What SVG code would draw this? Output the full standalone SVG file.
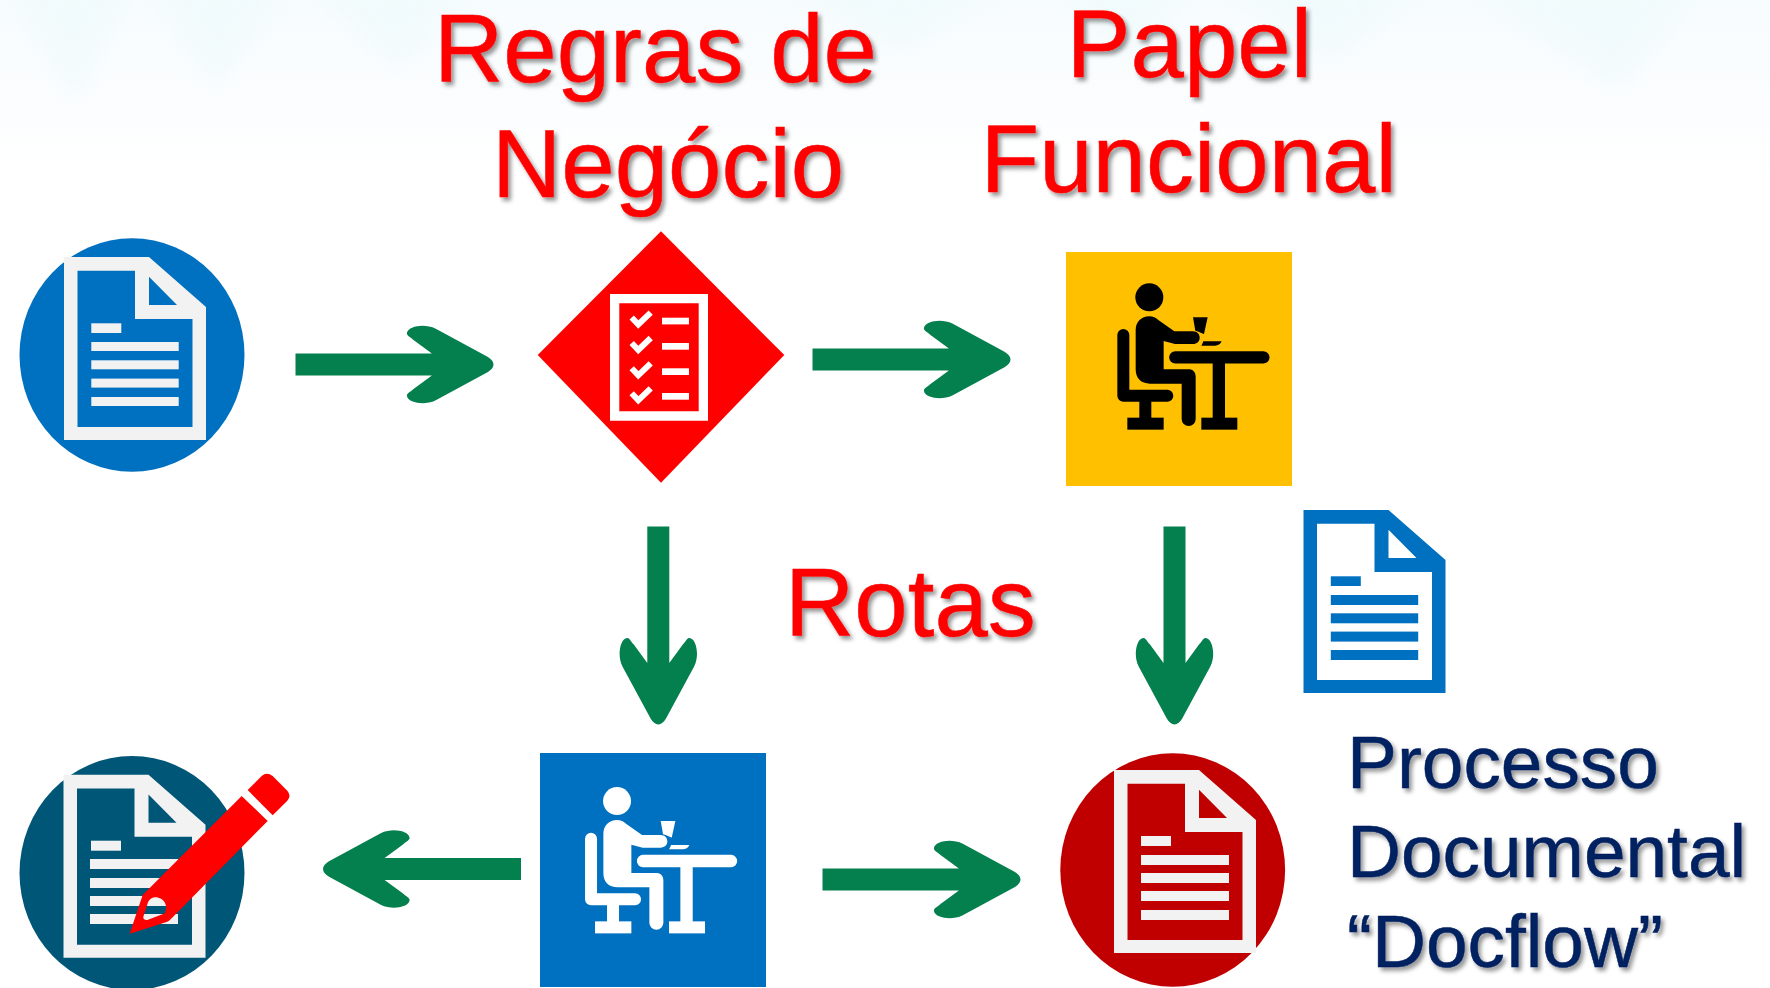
<svg xmlns="http://www.w3.org/2000/svg" xmlns:xlink="http://www.w3.org/1999/xlink" width="1770" height="988" viewBox="0 0 1770 988">
<style>
text{font-family:"Liberation Sans",Arial,sans-serif;filter:url(#ts);stroke-width:.5px}
.big{font-size:96px;fill:#ff0000;stroke:#ff0000}
.nav{font-size:74.8px;fill:#002060;stroke:#002060}
.arrow{fill:#047f4e}
.sheet{fill:#f2f2f2}
.bluedoc{fill:#0070c0}
</style>
<defs>
<filter id="ts" x="-10%" y="-10%" width="120%" height="125%"><feDropShadow dx="3" dy="3.5" stdDeviation="2" flood-color="#000" flood-opacity=".42"/></filter>
<filter id="soft" x="-20%" y="-20%" width="140%" height="140%"><feGaussianBlur stdDeviation="12"/></filter>
<linearGradient id="bg" x1="0" y1="0" x2="0" y2="1"><stop offset="0" stop-color="#f7fcfe"/><stop offset=".6" stop-color="#fbfdfe"/><stop offset="1" stop-color="#fff"/></linearGradient>
<path id="arr" d="M-198,-11H-61.6L-80,-24.5C-84,-28 -86.6,-29 -86.6,-31C-86.6,-36 -78,-38.7 -71,-38.7C-67,-38.7 -62,-38 -57.7,-35.7L-6,-7.7C-2.5,-5.5 0,-3 0,0C0,3 -2.5,5.5 -6,7.7L-57.7,35.7C-62,38 -67,38.7 -71,38.7C-78,38.7 -86.6,36 -86.6,31C-86.6,29 -84,28 -80,24.5L-61.6,11H-198Z"/>
<path id="frame" fill-rule="evenodd" d="M0,0H85L142,50V183H0ZM13.5,13.7V170H128.5V62H71V13.7ZM85,19.7V48H113Z"/>
<g id="desk">
<circle cx="328" cy="172" r="42"/>
<path d="M250,285V467H382" fill="none" stroke="currentColor" stroke-width="36" stroke-linecap="round" stroke-linejoin="round"/>
<rect x="298" y="467" width="36" height="70"/><rect x="262" y="533" width="109" height="36"/>
<path d="M287,270C287,245 305,229 327,229C340,229 348,234 355,240L403,274H458C472,274 479,283 479,293C479,303 472,312 458,312H405L371,303V388H445C459,388 467,396 467,410V537A21,21 0 0 1 425,537V431H330C303,431 287,415 287,388Z"/>
<path d="M406,352H670" fill="none" stroke="currentColor" stroke-width="37" stroke-linecap="round"/>
<rect x="518" y="352" width="37" height="185"/><rect x="484" y="533" width="108" height="36"/>
<path d="M459,232H503L492,282C492,282 480,276 466,272ZM490,304H545C541,313 534,317 525,317H484C487,312 489,308 490,304Z"/>
</g>
</defs>
<g id="sky">
<rect x="0" y="0" width="1770" height="170" fill="url(#bg)"/>
<g fill="#f0fafc" filter="url(#soft)" opacity=".8">
<polygon points="10,-20 130,-20 75,105"/>
<polygon points="150,-20 290,-20 215,90"/>
<polygon points="310,-20 470,-20 400,70"/>
<polygon points="780,-20 1010,-20 900,50"/>
<polygon points="1060,-20 1190,-20 1130,60"/>
<polygon points="1220,-20 1430,-20 1330,60"/>
<polygon points="1460,-20 1700,-20 1620,90"/>
</g>
</g>
<g id="connectors" class="arrow">
<use xlink:href="#arr" href="#arr" transform="translate(493.5,364.5)"/>
<use xlink:href="#arr" href="#arr" transform="translate(1010.5,359.5)"/>
<use xlink:href="#arr" href="#arr" transform="translate(658.3,724.5) rotate(90)"/>
<use xlink:href="#arr" href="#arr" transform="translate(1174.5,724.5) rotate(90)"/>
<use xlink:href="#arr" href="#arr" transform="translate(323,869) rotate(180)"/>
<use xlink:href="#arr" href="#arr" transform="translate(1020.5,879.5)"/>
</g>
<g id="node-start">
<ellipse cx="132" cy="355" rx="112.5" ry="116.7" fill="#0070c0"/>
<g class="sheet" transform="translate(64,257)"><use xlink:href="#frame" href="#frame"/>
<rect x="27.3" y="66.3" width="30" height="9.7"/><rect x="27.3" y="85" width="87.4" height="9"/><rect x="27.3" y="103.3" width="87.4" height="9"/><rect x="27.3" y="121.6" width="87.4" height="9"/><rect x="27.3" y="140" width="87.4" height="9"/></g>
</g>
<g id="node-rules">
<polygon points="661,231.3 784.3,355 661,482.7 537.7,355" fill="#ff0000"/>
<path fill="#fff" fill-rule="evenodd" d="M610,294H708V420.7H610ZM619.3,303.3V411.3H698.7V303.3Z"/>
<g fill="#fff"><rect x="662" y="317.7" width="27" height="6.7"/><rect x="662" y="343" width="27" height="6.7"/><rect x="662" y="368.3" width="27" height="6.7"/><rect x="662" y="393" width="27" height="6.7"/></g>
<g fill="none" stroke="#fff" stroke-width="6"><path d="M631.7,317.5L638.3,324.5L650.7,312.7"/><path d="M631.7,343L638.3,350L650.7,338"/><path d="M631.7,368.3L638.3,375.3L650.7,363.3"/><path d="M631.7,393.3L638.3,400.3L650.7,388.3"/></g>
</g>
<g id="node-role">
<rect x="1066" y="252" width="226" height="234" fill="#ffc000"/>
<use xlink:href="#desk" href="#desk" transform="translate(1040,240) scale(.33333)" fill="#000" color="#000"/>
</g>
<g id="node-doc-blue">
<g class="bluedoc" transform="translate(1303.5,510)"><use xlink:href="#frame" href="#frame"/>
<rect x="27.3" y="66.3" width="30" height="9.7"/><rect x="27.3" y="85" width="87.4" height="10"/><rect x="27.3" y="103.3" width="87.4" height="10"/><rect x="27.3" y="121.6" width="87.4" height="10"/><rect x="27.3" y="140" width="87.4" height="10"/></g>
</g>
<g id="node-route">
<rect x="540" y="753" width="226" height="234" fill="#0070c0"/>
<use xlink:href="#desk" href="#desk" transform="translate(507.7,743.7) scale(.33333)" fill="#fff" color="#fff"/>
</g>
<g id="node-edit">
<ellipse cx="132" cy="873" rx="112.5" ry="117" fill="#005677"/>
<g class="sheet" transform="translate(63.5,774.7)"><use xlink:href="#frame" href="#frame"/>
<rect x="27.5" y="66" width="30" height="10"/><rect x="26.5" y="84.3" width="88" height="10"/><rect x="26.5" y="103.3" width="88" height="10"/><rect x="26.5" y="121.3" width="88" height="10"/><rect x="26.5" y="139.3" width="88" height="10"/></g>
<g fill="#ff0000" transform="translate(0,740) scale(.33333)">
<path fill-rule="evenodd" d="M725,168L803,243L515,535Q508,543 500,546L389,581L428,465ZM430,530L444,487C450,473 462,470 475,473C490,477 500,490 498,505L495,520L442,540C434,541 429,537 430,530Z"/>
<path d="M743,150L785,108Q800,95 818,108L862,152Q875,168 862,182L818,226Z"/>
</g>
</g>
<g id="node-final">
<ellipse cx="1172.7" cy="870" rx="112.4" ry="116.7" fill="#c00000"/>
<g class="sheet" transform="translate(1114,770)"><use xlink:href="#frame" href="#frame"/>
<rect x="27" y="66" width="30" height="10"/><rect x="27" y="85" width="88" height="10"/><rect x="27" y="103" width="88" height="10"/><rect x="27" y="121" width="88" height="10"/><rect x="27" y="140" width="88" height="10"/></g>
</g>
<g id="labels">
<text class="big" x="434" y="81.7">Regras de</text>
<text class="big" x="492" y="196.7">Negócio</text>
<text class="big" x="1066.5" y="76.7">Papel</text>
<text class="big" x="980.5" y="191.7">Funcional</text>
<text class="big" x="785" y="635.6">Rotas</text>
<text class="nav" x="1347" y="787.7">Processo</text>
<text class="nav" x="1347" y="877">Documental</text>
<text class="nav" x="1347" y="966.7">“Docflow”</text>
</g>
</svg>
